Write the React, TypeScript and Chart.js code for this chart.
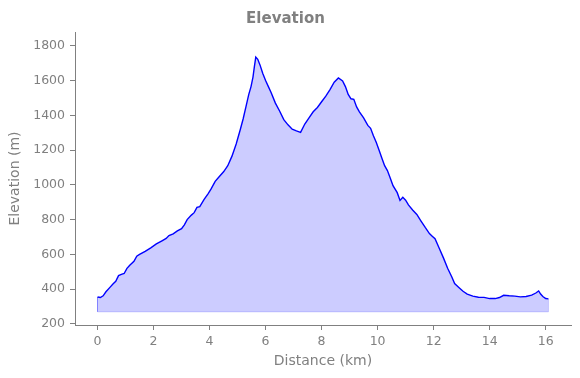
import { useEffect, useRef } from 'react';
import { Chart, registerables } from 'chart.js';

Chart.register(...registerables);

const distanceKm = [
  0, 0.1, 0.2, 0.3, 0.45, 0.55, 0.65, 0.75, 0.85, 0.95, 1.05, 1.15, 1.3, 1.4, 1.5, 1.7, 1.9, 2.1, 2.3, 2.45,
  2.55, 2.7, 2.85, 3.0, 3.1, 3.2, 3.35, 3.45, 3.55, 3.65, 3.8, 3.95, 4.05, 4.2, 4.35, 4.5, 4.65, 4.8, 4.95, 5.1,
  5.2, 5.3, 5.4, 5.48, 5.55, 5.6, 5.65, 5.72, 5.8, 5.9, 6.0, 6.1, 6.2, 6.35, 6.5, 6.65, 6.8, 6.95, 7.1, 7.25,
  7.4, 7.55, 7.7, 7.85, 8.0, 8.15, 8.3, 8.45, 8.6, 8.75, 8.85, 8.95, 9.05, 9.15, 9.25, 9.35, 9.5, 9.65, 9.75, 9.85,
  9.95, 10.05, 10.15, 10.25, 10.35, 10.45, 10.55, 10.7, 10.8, 10.9, 11.0, 11.1, 11.25, 11.4, 11.55, 11.7, 11.85, 11.95, 12.05, 12.2,
  12.35, 12.5, 12.65, 12.75, 12.9, 13.05, 13.2, 13.4, 13.6, 13.8, 14.0, 14.2, 14.35, 14.5, 14.7, 14.9, 15.1, 15.3, 15.5, 15.65,
  15.75, 15.82, 15.9, 16.0, 16.1,
];

const elevationM = [
  355, 352, 362, 385, 412, 430, 445, 478, 485, 490, 520, 538, 560, 590, 600, 618, 638, 660, 678, 692,
  708, 718, 735, 748, 770, 800, 826, 840, 870, 875, 915, 950, 975, 1020, 1048, 1075, 1110, 1165, 1235, 1320,
  1380, 1450, 1520, 1565, 1620, 1680, 1735, 1722, 1690, 1640, 1600, 1565, 1530, 1470, 1425, 1375, 1345, 1320, 1310, 1302,
  1350, 1385, 1420, 1445, 1478, 1510, 1548, 1590, 1615, 1598, 1565, 1520, 1495, 1492, 1448, 1420, 1385, 1342, 1325, 1282,
  1245, 1200, 1155, 1110, 1082, 1040, 995, 955, 910, 928, 912, 885, 855, 830, 792, 755, 720, 705, 690, 635,
  580, 520, 470, 432, 410, 388, 372, 360, 354, 353, 346, 346, 352, 365, 362, 360, 356, 358, 366, 378,
  390, 372, 358, 346, 344,
];

const fillBase = 270;
const xTickValues = [0, 2, 4, 6, 8, 10, 12, 14, 16];
const yTickValues = [200, 400, 600, 800, 1000, 1200, 1400, 1600, 1800];

const FONT = '"DejaVu Sans", sans-serif';
const GRAY = '#808080';

export default function App() {
  const ref = useRef<HTMLCanvasElement>(null);

  useEffect(() => {
    if (!ref.current) return;
    const pts = distanceKm.map((d, i) => ({ x: d, y: elevationM[i] }));
    const n = distanceKm.length - 1;
    const edge = [
      { x: distanceKm[0], y: elevationM[0] },
      { x: distanceKm[0], y: fillBase },
      { x: distanceKm[n], y: fillBase },
      { x: distanceKm[n], y: elevationM[n] },
    ];
    const chart = new Chart(ref.current, {
      type: 'line',
      data: {
        datasets: [
          {
            data: pts,
            borderColor: '#0000ff',
            borderWidth: 1.4,
            pointRadius: 0,
            tension: 0,
            fill: { value: fillBase },
            backgroundColor: 'rgba(0,0,255,0.2)',
            order: 0,
          },
          {
            data: edge,
            borderColor: 'rgba(0,0,255,0.2)',
            borderWidth: 1,
            pointRadius: 0,
            tension: 0,
            fill: false,
            order: 1,
          },
        ],
      },
      options: {
        animation: false,
        responsive: false,
        devicePixelRatio: 1,
        layout: { padding: { left: 0, right: 9, top: 0, bottom: 0 } },
        plugins: {
          legend: { display: false },
          tooltip: { enabled: false },
          title: {
            display: true,
            text: 'Elevation',
            color: GRAY,
            font: { family: FONT, size: 15, weight: 'bold' },
            padding: { top: 10, bottom: 4 },
          },
        },
        scales: {
          x: {
            type: 'linear',
            min: -0.805,
            max: 16.905,
            afterBuildTicks: (s: any) => {
              s.ticks = xTickValues.map((v) => ({ value: v }));
            },
            afterFit: (s: any) => {
              s.height = 53;
            },
            grid: { display: true, drawOnChartArea: false, drawTicks: true, tickLength: 5, color: GRAY },
            border: { display: true, color: GRAY },
            ticks: {
              color: GRAY,
              font: { family: FONT, size: 12.5 },
              padding: 4,
              maxRotation: 0,
              autoSkip: false,
              callback: (v: any) => String(v),
            },
            title: {
              display: true,
              text: 'Distance (km)',
              color: GRAY,
              font: { family: FONT, size: 14 },
              padding: { top: 0, bottom: 8 },
            },
          },
          y: {
            type: 'linear',
            min: 194,
            max: 1879,
            afterBuildTicks: (s: any) => {
              s.ticks = yTickValues.map((v) => ({ value: v }));
            },
            afterFit: (s: any) => {
              s.width = 75;
            },
            grid: { display: true, drawOnChartArea: false, drawTicks: true, tickLength: 5, color: GRAY },
            border: { display: true, color: GRAY },
            ticks: {
              color: GRAY,
              font: { family: FONT, size: 12.5 },
              padding: 5,
              autoSkip: false,
              callback: (v: any) => String(v),
            },
            title: {
              display: true,
              text: 'Elevation (m)',
              color: GRAY,
              font: { family: FONT, size: 14 },
              padding: { top: 7, bottom: 0 },
            },
          },
        },
      },
    });
    return () => chart.destroy();
  }, []);

  return (
    <div style={{ position: 'absolute', left: 0, top: 0, width: 580, height: 378 }}>
      <canvas ref={ref} width={580} height={378} />
    </div>
  );
}
